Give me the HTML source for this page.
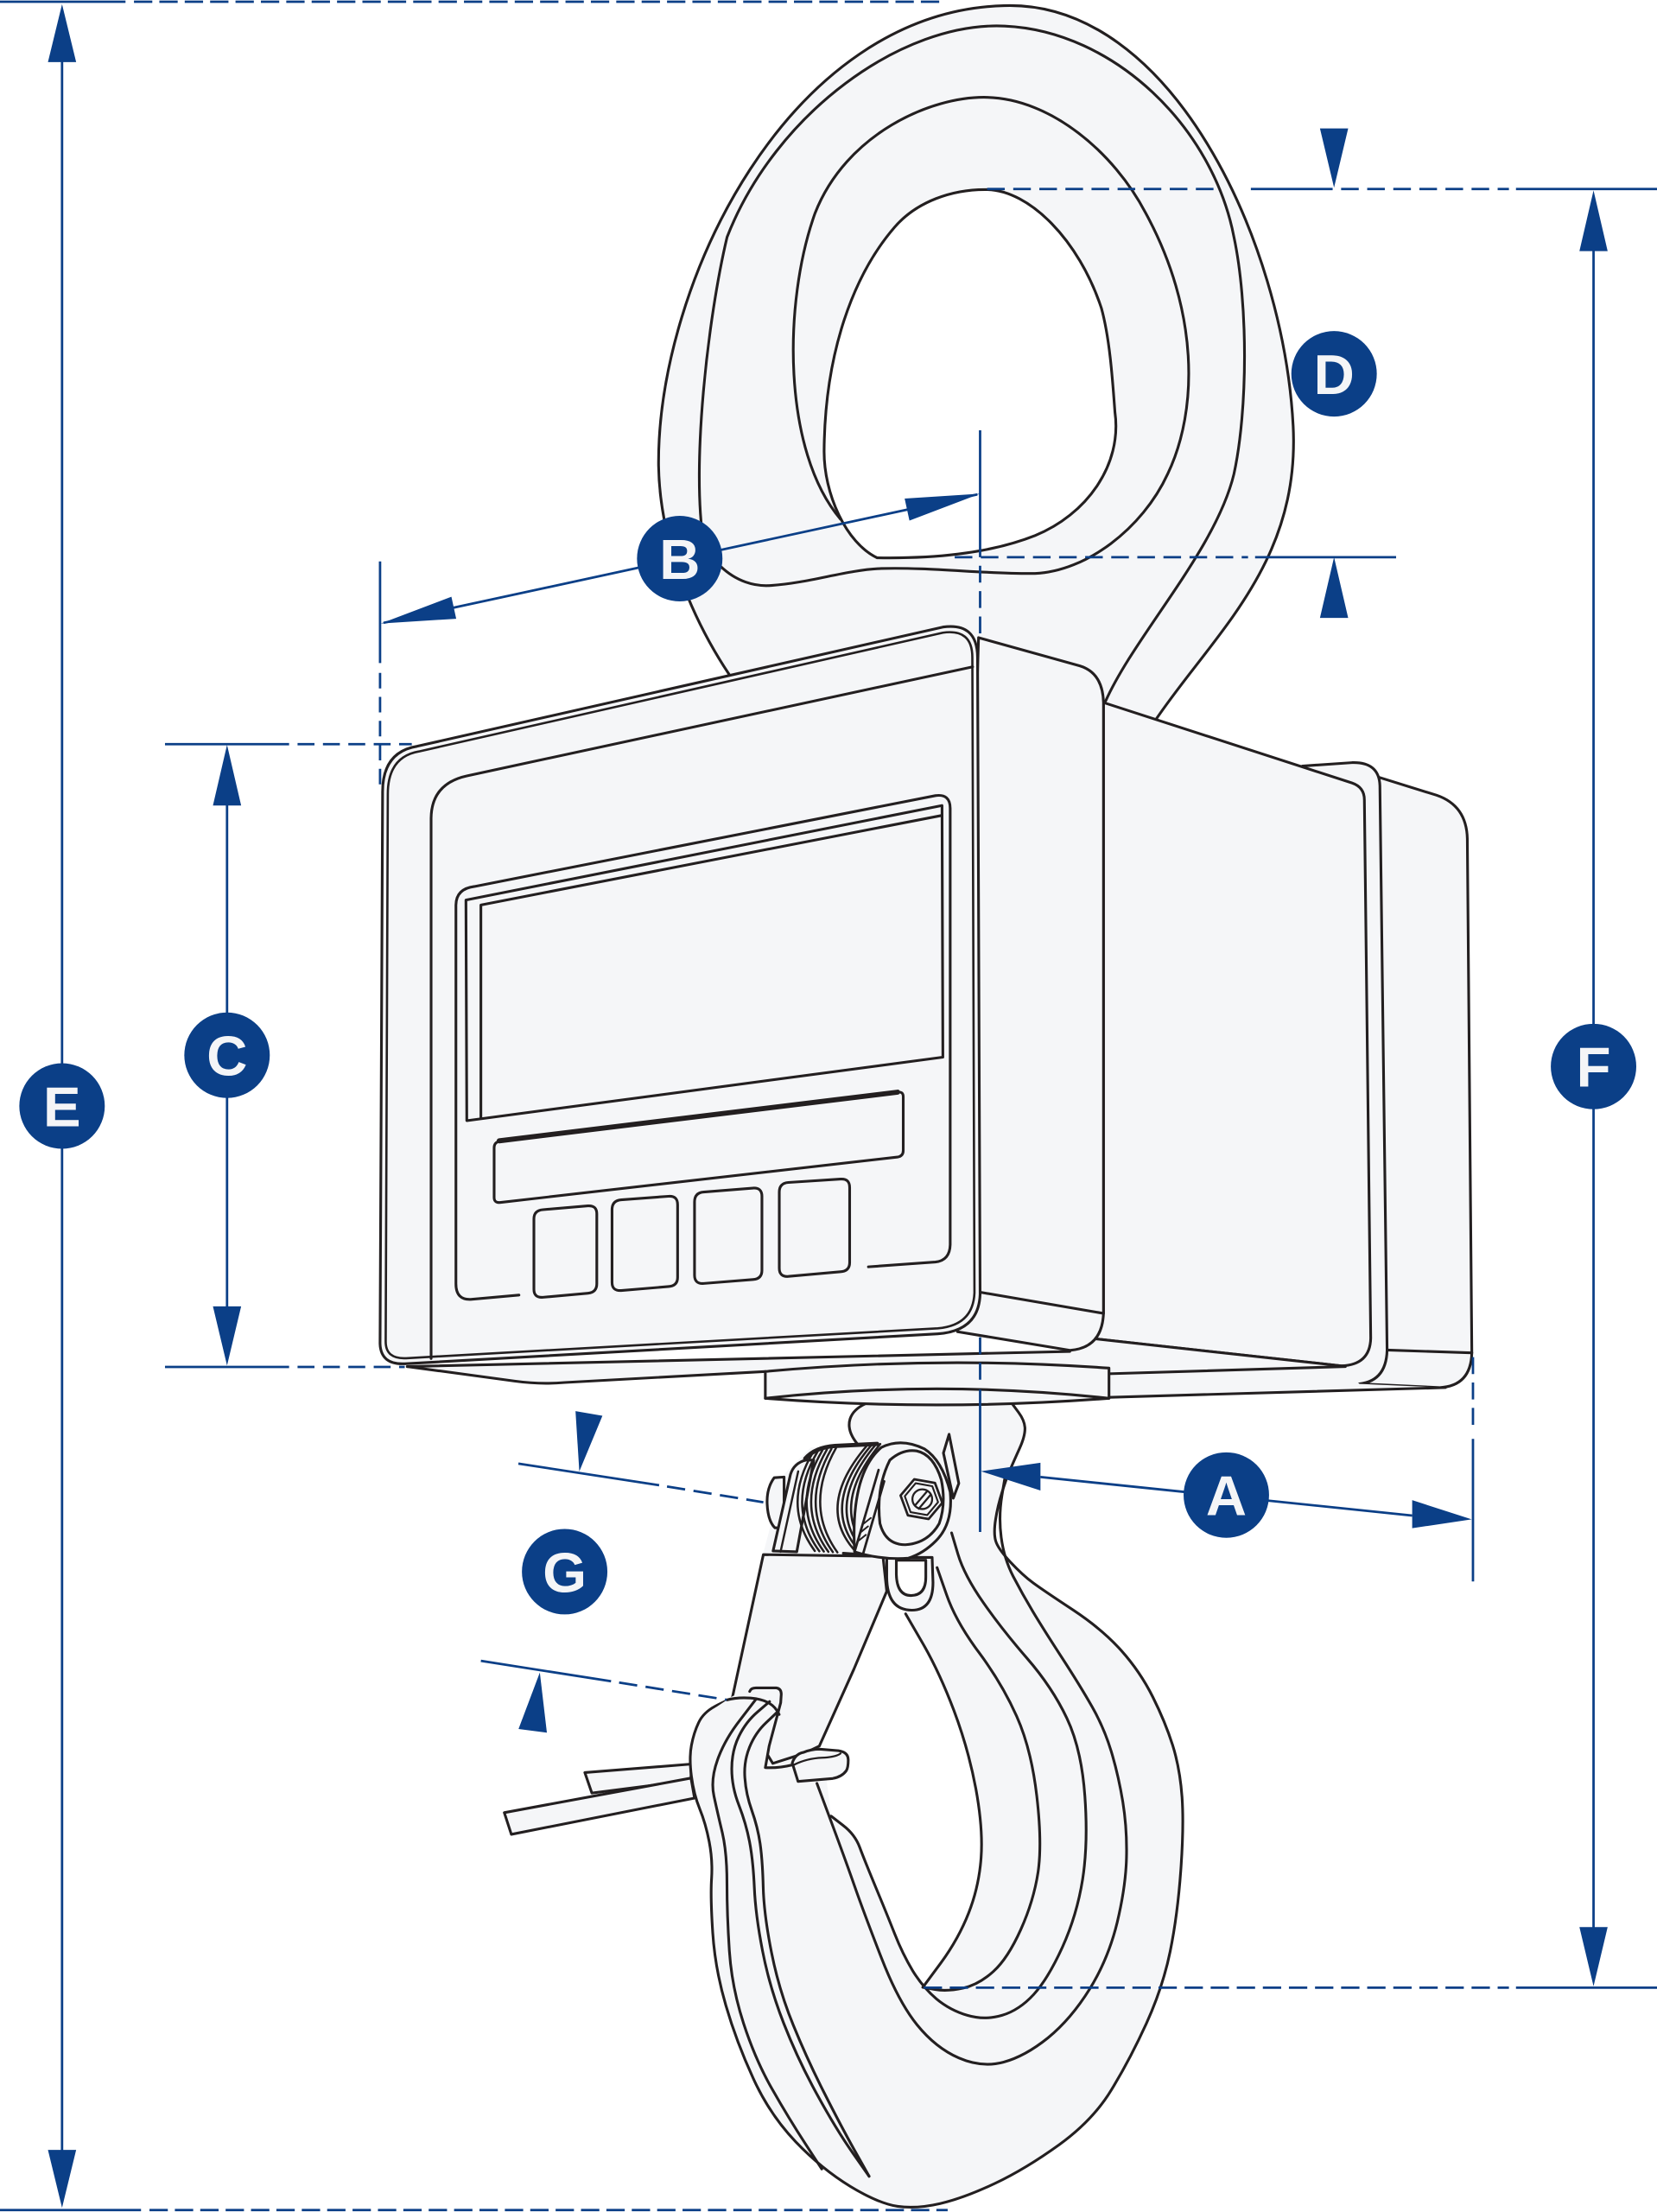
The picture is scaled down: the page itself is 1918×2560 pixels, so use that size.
<!DOCTYPE html>
<html><head><meta charset="utf-8"><title>Crane scale dimensions</title>
<style>html,body{margin:0;padding:0;background:#fff;}svg{display:block;}</style></head>
<body>
<svg xmlns="http://www.w3.org/2000/svg" width="1918" height="2560" viewBox="0 0 1175 1568" preserveAspectRatio="none">
<rect x="0" y="0" width="1175" height="1568" fill="#ffffff"/>

<!-- ================= EYE / SHACKLE ================= -->
<g stroke="#231f20" stroke-width="1.9" stroke-linejoin="round" stroke-linecap="round">
  <path fill="#f5f6f8" stroke="none" d="M517,478 C497,448 468,392 467,330 C466,200 560,8 712,4 C830,0 910,170 917,302 C922,400 860,450 819,511 L800,525 L530,525 Z"/>
  <path fill="none" d="M517,478 C497,448 468,392 467,330 C466,200 560,8 712,4 C830,0 910,170 917,302 C922,400 860,450 819,511"/>
  <!-- contour 2 -->
  <path fill="none" d="M784,497 C805,450 862,390 875,336 C885,290 885,215 875,168 C860,90 790,22 712.5,18.5 C640,15 550,80 515.6,168 C502,225 490,330 499,385"/>
  <!-- contour 3 -->
  <path fill="none" d="M511,401.5 C522,412 535,416 547,415 C575,413 600,404 625,403 C660,402 700,407 734,406.5 C770,405 810,375 828,336 C850,290 850,220 812.4,151 C790,108 745,70 700,69 C660,68 600,95 578,151 C555,215 555,320 596,368"/>
  <!-- hole -->
  <path fill="#ffffff" d="M622,395.4 C600,385 584,350 584.4,319 C585,250 605,195 634.4,161 C650,143 675,134 700,134.4 C730,135 765,170 781,218.4 C787,240 789,270 790.6,292 C796,330 770,365 734,379.6 C700,393 660,396 622,395.4 Z"/>
</g>

<!-- ================= HOOK ================= -->
<g stroke="#231f20" stroke-width="1.9" stroke-linejoin="round" stroke-linecap="round" fill="#f5f6f8">
  <!-- straps -->
  <path d="M414.7,1256.5 L490,1250.5 L490,1262 L419.7,1271 Z"/>
  <path d="M357.6,1284.9 L490,1260.4 L492.5,1274.6 L362.6,1300.3 Z"/>

  <!-- hook body fill -->
  <path stroke="none" d="M613.8,995 L717.7,995 L722.3,1001.2 Q726.8,1007.3 726.8,1012.8 Q726.8,1018.3 723.1,1026.5 Q719.4,1034.7 716.4,1041.6 Q713.4,1048.4 710.5,1058 Q707.5,1067.5 706,1077 Q704.5,1086.6 706,1092.1 Q707.5,1097.6 716.4,1107.2 Q725.3,1116.7 732.8,1122.2 Q740.2,1127.6 761,1141.3 Q781.7,1155 795.1,1170 Q808.5,1185 817.4,1202.8 Q826.3,1220.6 831.5,1237 Q836.7,1253.4 838.2,1273.9 Q839.6,1294.4 837.3,1326 Q835,1357.7 829.8,1383.2 Q824.6,1408.6 812.9,1434.4 Q801.1,1460.2 788,1481.6 Q775,1503 751.1,1520.3 Q727.2,1537.5 705.4,1547.8 Q683.5,1558.1 666.7,1562 Q649.9,1565.9 636.5,1564 Q623,1562 602.9,1549.8 Q582.7,1537.5 564.2,1518.2 Q545.7,1498.8 534,1473 Q522.2,1447.3 514.7,1421.5 Q507.1,1395.7 505.4,1370 Q503.7,1344.2 504.6,1331.3 Q505.4,1318.4 502.9,1305.5 Q500.4,1292.6 496.2,1282.3 Q492,1272 490.3,1259.1 Q488.6,1246.2 490.3,1237.2 Q492,1228.2 495.4,1221.1 Q498.7,1214 507.1,1209.5 Q515.5,1205 531,1199 L541,1102 L556,1045 L575,1026 L609.7,1025.5 Q600,1015 602.8,1005.8 Q605,999 613.8,995 Z"/>
  <!-- outer strokes -->
  <path fill="none" d="M609.7,1025.5 Q600,1015 602.8,1005.8 Q605,999 613.8,995"/>
  <path fill="none" d="M717.7,995 L722.3,1001.2 Q726.8,1007.3 726.8,1012.8 Q726.8,1018.3 723.1,1026.5 Q719.4,1034.7 716.4,1041.6 Q713.4,1048.4 710.5,1058 Q707.5,1067.5 706,1077 Q704.5,1086.6 706,1092.1 Q707.5,1097.6 716.4,1107.2 Q725.3,1116.7 732.8,1122.2 Q740.2,1127.6 761,1141.3 Q781.7,1155 795.1,1170 Q808.5,1185 817.4,1202.8 Q826.3,1220.6 831.5,1237 Q836.7,1253.4 838.2,1273.9 Q839.6,1294.4 837.3,1326 Q835,1357.7 829.8,1383.2 Q824.6,1408.6 812.9,1434.4 Q801.1,1460.2 788,1481.6 Q775,1503 751.1,1520.3 Q727.2,1537.5 705.4,1547.8 Q683.5,1558.1 666.7,1562 Q649.9,1565.9 636.5,1564 Q623,1562 602.9,1549.8 Q582.7,1537.5 564.2,1518.2 Q545.7,1498.8 534,1473 Q522.2,1447.3 514.7,1421.5 Q507.1,1395.7 505.4,1370 Q503.7,1344.2 504.6,1331.3 Q505.4,1318.4 502.9,1305.5 Q500.4,1292.6 496.2,1282.3 Q492,1272 490.3,1259.1 Q488.6,1246.2 490.3,1237.2 Q492,1228.2 495.4,1221.1 Q498.7,1214 507.1,1209.5 Q515.5,1205 531,1199"/>

  <!-- throat (white) -->
  <path fill="#ffffff" stroke="none" d="M628.8,1128 L605.6,1183 L581,1237.7 L572.7,1244.3 L594.5,1239.8 L601.2,1246.2 L599.5,1255.2 L586.1,1261.7 L589.4,1287.4 Q606.2,1300.3 609.6,1309.4 Q613,1318.5 621,1337.8 Q629,1357 634.5,1371 Q640,1385 647.2,1397 L654.4,1408.7 L667.2,1391.4 Q679.9,1374 687,1355.7 Q694.2,1337.3 695.7,1316.9 Q697.2,1296.4 692,1268 Q686.7,1239.7 676.4,1212.4 Q666,1185 654.1,1164.5 L642.2,1144 L640,1136 Z"/>

  <!-- latch plate -->
  <path d="M541.3,1102 L626.1,1103.2 L628.8,1128 L605.6,1183 L581,1237.7 L570,1243 L548,1250 L519.4,1203 Z"/>

  <!-- tip fill -->
  <path stroke="none" d="M505,1212 L515.5,1205 Q522,1200 531.6,1199 L533,1197 L550.5,1196.5 L554,1201 L553.6,1207 L545.4,1237.7 L542.7,1253 L562,1252 L586,1262 L589,1290 L510,1300 Z"/>

  <!-- inner hook lines -->
  <path fill="none" d="M642.2,1144 L654.1,1164.5 Q666,1185 676.4,1212.4 Q686.7,1239.7 692,1268 Q697.2,1296.4 695.7,1316.9 Q694.2,1337.3 687,1355.7 Q679.9,1374 667.2,1391.4 L654.4,1408.7"/>
  <path fill="none" d="M664.5,1111.2 L671.2,1130.4 Q677.8,1149.5 694.2,1171.4 Q710.5,1193.3 720.9,1216.5 Q731.3,1239.7 735.2,1273.2 Q739.1,1306.6 736.1,1327.1 Q733,1347.5 723.8,1367.9 Q714.6,1388.3 704.4,1397.5 Q694.2,1406.7 683,1409.3 Q671.7,1411.8 663,1410.3 L654.4,1408.7"/>
  <path fill="none" d="M674.8,1086.6 L679.3,1101.7 Q683.8,1116.7 697.2,1135.9 Q710.5,1155 728.3,1175.5 Q746.1,1196 756.5,1217.9 Q766.9,1239.7 769.3,1273.2 Q771.7,1306.6 767.7,1332.2 Q763.6,1357.7 753.4,1380.2 Q743.2,1402.6 733,1413.8 Q722.7,1425 710.5,1428.6 Q698.2,1432.2 686,1428.6 Q673.7,1425 664,1416.9 Q654.4,1408.7 647.2,1397 Q640,1385 634.5,1371 Q629,1357 621,1337.8 Q613,1318.5 609.6,1309.4 Q606.2,1300.3 597.8,1293.9 L589.4,1287.4"/>
  <path fill="none" d="M713,1045 L710.5,1060 Q708,1075 710,1090 Q712,1105 718.5,1117.5 Q725,1130 732.5,1142.5 Q740,1155 753,1175 Q766,1195 774.5,1210 Q783,1225 788,1241.5 Q793,1258 796.2,1277.2 Q799.3,1296.4 798.8,1316.9 Q798.3,1337.3 792.2,1362.8 Q786,1388.3 772.8,1409.8 Q759.5,1431.2 743.2,1444.5 Q726.8,1457.7 711.5,1461.8 Q696.2,1465.9 679.9,1458.8 Q663.5,1451.6 650.3,1435.3 Q637,1418.9 624.8,1387.3 Q612.5,1355.6 606,1337 Q599.5,1318.4 589.4,1291.3 L579.3,1264.2"/>
  <path fill="none" d="M535.7,1205 L524.8,1219.2 Q513.8,1233.3 508.8,1247.5 Q503.7,1261.7 506.3,1273.3 Q508.8,1284.9 512.2,1299.1 Q515.5,1313.2 515.5,1335.1 Q515.5,1357 517.2,1382.8 Q518.9,1408.6 527.3,1434.4 Q535.7,1460.2 547.5,1480.8 Q559.2,1501.4 571,1519.5 L582.7,1537.5"/>
  <path fill="none" d="M545.7,1206.2 L537.4,1213.3 Q529,1220.4 524,1230.7 Q518.9,1241 518.9,1253.9 Q518.9,1266.8 524,1279.7 Q529,1292.6 531.5,1305.5 Q534,1318.4 534.9,1337.7 Q535.7,1357 540.7,1382.8 Q545.7,1408.6 555.8,1434.4 Q565.9,1460.2 579.4,1484.7 Q592.8,1509.2 604.6,1526 L616.3,1542.7"/>
  <path fill="none" d="M550.8,1214 L543.3,1221.1 Q535.7,1228.2 531.5,1238.5 Q527.3,1248.8 528.2,1260.4 Q529,1272 533.2,1283.6 Q537.3,1295.2 539,1306.8 Q540.7,1318.4 541.2,1337.7 Q541.7,1357 547.1,1384.1 Q552.5,1411.2 562.6,1435.7 Q572.6,1460.2 584.4,1483.4 Q596.1,1506.6 606.2,1524.7 L616.3,1542.7"/>

  <!-- tip strokes -->
  <path fill="none" d="M531.6,1199 Q532.5,1196.5 536,1196.5 L550.5,1196.5 Q554,1197 554,1201 L553.6,1207 L545.4,1237.7 L542.7,1253 Q552,1253.5 562,1251"/>
  <path fill="none" d="M515.5,1205 Q523,1203 532.3,1203.7 Q541,1204.5 545.7,1207.5 Q550,1210 552.5,1215.3"/>

  <!-- latch end tab -->
  <path d="M561.8,1249.7 Q564,1243 570,1242.1 Q575,1240 581,1239.9 L594.6,1241 Q601.5,1242 601.5,1247.5 Q601.5,1253 600.1,1255.2 Q597,1259.5 590.5,1260.7 L565.9,1262.8 Z"/>
  <path fill="none" stroke-width="1.4" d="M563,1251 Q572,1246.5 583,1246 Q593,1245.5 596,1243"/>

  <!-- hinge loop -->
  <path d="M628.8,1104 L628.8,1118 Q629,1141.4 646.6,1141.4 Q661.6,1141.4 661.6,1121.8 L661,1104 Z"/>
  <path fill="#ffffff" d="M635.6,1106 L635.6,1116 Q636,1131 646,1131 Q656.5,1131 656.5,1118 L656.5,1106 Z"/>

  <!-- spring / swivel -->
  <path stroke="none" d="M552,1101 L562,1045 Q568,1033 580,1029 L625,1023 L632,1101 Z"/>
  <path d="M556,1047 L549,1047.5 Q543.5,1055 544,1066 Q544.5,1078 549.5,1083 L556,1083 Z"/>
  <path d="M548.2,1099.4 L560.5,1045.3 Q563,1037 571.7,1035 L577,1035 L565,1100 Z"/>
  <path fill="none" stroke-width="1.5" d="M553.5,1100 L566,1043"/>
  <g fill="none" stroke-width="1.55">
    <path d="M576.8,1029 Q553.9,1067 577.8,1099.4"/>
    <path d="M580,1028.5 Q557.1,1067 581,1099.6"/>
    <path d="M583.2,1028 Q560.3,1067 584.2,1099.8"/>
    <path d="M586.4,1027.5 Q563.5,1067 587.4,1100"/>
    <path d="M589.6,1027 Q566.7,1067 590.6,1100.2"/>
    <path d="M592.8,1026.5 Q569.9,1067 593.8,1100.4"/>
    <path d="M614.6,1024.9 Q577.2,1068.7 607.4,1100.5"/>
    <path d="M617.8,1024.5 Q580.4,1068.7 610.6,1100.7"/>
    <path d="M621,1024 Q583.6,1068.7 613.8,1100.9"/>
    <path d="M624.2,1023.6 Q586.8,1068.7 617,1101.1"/>
  </g>
  <path fill="none" stroke-width="3" d="M571,1034 Q578,1026 592,1025 L622,1023.5"/>
  <path fill="none" d="M598,1101 L626,1103"/>

  <!-- fin -->
  <path d="M669,1030 L673,1016.7 L679.9,1051.5 L676,1062 Z"/>
  <!-- eye ring -->
  <path d="M606,1100 Q603,1045 625,1026 Q639,1019 655.4,1027 Q668,1035 673.8,1057.6 Q676,1080 663.6,1092.3 Q655,1101 644.2,1104.5 Q625,1106 606,1100 Z"/>
  <path fill="none" stroke-width="1.7" d="M606,1100 L623,1042 M612,1101.5 L627,1050"/>
  <path fill="none" stroke-width="1.2" d="M609,1092 L614,1088 M610.5,1086 L615.5,1082 M612.5,1080 L617.5,1076"/>
  <path fill="none" d="M631,1035 Q640,1027 650,1028.5 Q662,1031 667.5,1049 Q671,1066 666,1080 Q658,1094 642,1095 Q628,1095 624,1080 Q621,1055 631,1035 Z"/>
  <!-- hex nut -->
  <path stroke-width="1.7" d="M668.2,1065.3 L658.5,1076.8 L643.8,1074.2 L638.6,1060.1 L648.3,1048.6 L663,1051.2 Z"/>
  <path fill="none" stroke-width="1.3" d="M665.2,1064.8 L657.5,1074 L645.7,1071.9 L641.6,1060.6 L649.3,1051.4 L661.1,1053.5 Z"/>
  <circle cx="654" cy="1062.7" r="7" stroke-width="1.4"/>
  <path fill="none" stroke-width="1.4" d="M649,1067 L657.5,1057 M651.5,1069.5 L660,1059.5"/>
</g>

<!-- ================= BOX ================= -->
<g stroke="#231f20" stroke-width="1.9" stroke-linejoin="round" stroke-linecap="round" fill="#f5f6f8">
  <!-- back box -->
  <path d="M965,547 L1018.7,563.7 Q1040,571 1040.5,594.6 L1043.7,959 Q1043,982.5 1021,983.6 L966,981 Z"/>
  <path fill="none" d="M983.6,957 L1043.7,959"/>
  <!-- flange -->
  <path stroke="none" d="M923.6,543 L958.7,540.6 Q978,540 978.5,557 L983.6,957 Q983,980.5 961,981.2 L786,985 L786,960 Z"/>
  <path fill="none" d="M923.6,543 L958.7,540.6 Q978,540 978.5,557 L983.6,957 Q983,980.5 961,981.2 L786.4,985"/>
  <!-- big side panel -->
  <path d="M782.5,498 L958.7,555 Q967.5,558 967.5,567 L972,948.6 Q971.5,967.5 951.2,968.2 L776.2,949 L782.5,931 Z"/>
  <!-- base plate -->
  <path stroke="none" d="M288.8,968.7 L758.6,958 L776,949 L951,968.5 L964,981 L1025,983.6 L786.4,990.5 L542.7,972.2 L400.5,980 Q383,981.5 365,979 Z"/>
  <path fill="none" d="M288.8,968.7 L758.6,958"/>
  <path fill="none" d="M288.8,968.7 L365,979 Q383,981.5 400.5,980 L542.7,972.2"/>
  <path fill="none" d="M786.4,973.8 L954,968.7"/>
  <path fill="none" d="M786.4,990.5 L1025,983.6"/>
  <path fill="none" d="M776.2,949 L951.2,968.2"/>
  <!-- bezel side face -->
  <path d="M693.9,452 L765.7,472 Q782,477 782.5,498 L782.5,931 Q781.5,955.5 758.7,957.2 L679,944 L693.9,452 Z"/>
  <path fill="none" d="M695,916 L782.5,931"/>
  <!-- front bezel -->
  <path d="M271.3,562 Q271,533 295.8,529 L668.6,444.5 Q693,441 693.2,466 L695,917.5 Q694,943.5 665,945.5 L287,966.7 Q270,967.5 269.5,952.5 Z"/>
  <path fill="none" stroke-width="1.6" d="M275,563 Q275,536.5 297,532.7 L668.6,448.5 Q689.5,445.5 689.5,466 L691,916.5 Q690,939.5 665,941.6 L288,962.8 Q273.5,963.5 273.5,951 Z"/>
  <path fill="none" d="M305.7,963 L305.7,580 Q306,555.5 331,550 L689.7,472.7"/>
  <!-- panel -->
  <path fill="none" d="M368,918 L334.6,921 Q323.3,922 323.3,910 L323.3,641.5 Q323.5,630 336.4,628.4 L663.3,564 Q673.8,562.5 673.8,573 L673.8,882.3 Q673.5,893.5 663.3,894.6 L615.8,898"/>
  <!-- LCD -->
  <path d="M330.4,638 L668,571 L668.6,749.4 L331,794.4 Z"/>
  <path fill="none" d="M341,792.6 L341,641.5 L668,578"/>
  <!-- strip -->
  <path d="M354,809 Q350.4,810 350.4,813.5 L350.4,849 Q350.5,852.7 354.5,852.4 L636.5,820.2 Q640.5,819.6 640.5,815.5 L640.5,777.5 Q640.5,773.6 636.5,774.2 Z"/>
  <path fill="none" stroke-width="3.6" d="M354,808.7 L636.5,774.2"/>
  <!-- buttons -->
  <path d="M378.6,864 Q378.6,858 385,857.5 L416.8,854.8 Q423.2,854.3 423.2,860.5 L423.2,910 Q423.2,916 417,916.7 L385,919.6 Q378.6,920 378.6,914 Z"/>
  <path d="M434,857.5 Q434,851 440.5,850.5 L474,848 Q480.5,847.5 480.5,854 L480.5,905.5 Q480.5,911.5 474,912 L440.5,914.8 Q434,915.2 434,909 Z"/>
  <path d="M492.5,852 Q492.5,845.5 499,845 L533.8,842.2 Q540.3,841.7 540.3,848 L540.3,900.5 Q540.3,906.5 534,907 L499,909.8 Q492.5,910.2 492.5,904 Z"/>
  <path d="M552.6,845 Q552.6,838.7 559,838.2 L596,835.8 Q602.5,835.3 602.5,841.8 L602.5,895 Q602.5,901 596,901.5 L559,904.8 Q552.6,905.2 552.6,899 Z"/>
  <!-- collar disk -->
  <path d="M542.7,972.2 Q664,961 786.4,969.8 L786.4,991.2 Q664,1000.6 542.7,991.2 Z"/>
  <path fill="none" d="M542.7,991.2 Q664,977.8 786.4,991.2"/>
</g>

<!-- ================= DIMENSIONS ================= -->
<g stroke="#0b3f87" stroke-width="1.7" fill="none">
  <!-- E -->
  <path d="M44,40 L44,1527"/>
  <path d="M0,1.2 L89,1.2"/>
  <path d="M95,1.2 L668,1.2" stroke-dasharray="13 5"/>
  <path d="M0,1566.6 L100,1566.6"/>
  <path d="M106,1566.6 L672,1566.6" stroke-dasharray="13 5"/>
  <!-- C -->
  <path d="M161,568 L161,930"/>
  <path d="M117,527.5 L205,527.5"/>
  <path d="M211,527.5 L292,527.5" stroke-dasharray="12 6"/>
  <path d="M117,969 L205,969"/>
  <path d="M211,969 L287,969" stroke-dasharray="12 6"/>
  <!-- B -->
  <path d="M272,441.5 L693,350.5"/>
  <path d="M269.5,398 L269.5,470"/>
  <path d="M269.5,477 L269.5,562" stroke-dasharray="11 6"/>
  <!-- central vertical -->
  <path d="M695,305 L695,395"/>
  <path d="M695,401 L695,452" stroke-dasharray="12 6"/>
  <path d="M695,948 L695,980" stroke-dasharray="12 6"/>
  <path d="M695,985 L695,1086"/>
  <!-- D -->
  <path d="M700,134 L862,134" stroke-dasharray="12.5 6"/>
  <path d="M887,134 L945,134"/>
  <path d="M951,134 L1070,134" stroke-dasharray="12.5 6"/>
  <path d="M1075,134 L1175,134"/>
  <path d="M677,395 L885,395" stroke-dasharray="12.5 6"/>
  <path d="M890,395 L990,395"/>
  <!-- F -->
  <path d="M1130,175 L1130,1368"/>
  <path d="M655,1409 L1070,1409" stroke-dasharray="13 5.5"/>
  <path d="M1075,1409 L1175,1409"/>
  <!-- A -->
  <path d="M737.8,1047 L1001.4,1074.3"/>
  <path d="M1044.5,962 L1044.5,1015" stroke-dasharray="12 6"/>
  <path d="M1044.5,1020 L1044.5,1121"/>
  <!-- G -->
  <path d="M367.6,1037.5 L467.4,1052.8"/>
  <path d="M473,1053.7 L541.3,1064.9" stroke-dasharray="13 6"/>
  <path d="M341,1177.3 L433.3,1191.8"/>
  <path d="M439,1192.7 L515.3,1204.9" stroke-dasharray="13 6"/>
</g>
<g fill="#0b3f87" stroke="none">
  <polygon points="44,3 34,44 54,44"/>
  <polygon points="44,1565 34,1524 54,1524"/>
  <polygon points="161,528 151,571 171,571"/>
  <polygon points="161,968 151,926 171,926"/>
  <polygon points="270,442 323.5,438.6 320.1,423"/>
  <polygon points="695,350 644.9,369 641.5,353.4"/>
  <polygon points="946,133 936,91 956,91"/>
  <polygon points="946,395 936,438 956,438"/>
  <polygon points="1130,135 1120,178 1140,178"/>
  <polygon points="1130,1408 1120,1366 1140,1366"/>
  <polygon points="695.6,1042.9 737.8,1036.9 737.8,1056.6"/>
  <polygon points="1043.6,1077 1001.4,1063.4 1001.4,1083.3"/>
  <polygon points="410.8,1043 408.1,1000.3 427.2,1003.6"/>
  <polygon points="382.8,1185.6 367.7,1225.6 387.8,1228.2"/>

  <circle cx="44" cy="784" r="30.3"/>
  <circle cx="161" cy="748" r="30.3"/>
  <circle cx="482" cy="396" r="30.3"/>
  <circle cx="946" cy="265" r="30.3"/>
  <circle cx="1130" cy="756" r="30.3"/>
  <circle cx="869.6" cy="1059.8" r="30.3"/>
  <circle cx="400.4" cy="1114.1" r="30.3"/>
</g>
<g fill="#f4f5f7" font-family="'Liberation Sans', 'DejaVu Sans', sans-serif" font-weight="bold" font-size="40" text-anchor="middle">
  <text x="44" y="798.3">E</text>
  <text x="161" y="762.3">C</text>
  <text x="482" y="410.3">B</text>
  <text x="946" y="279.3">D</text>
  <text x="1130" y="770.3">F</text>
  <text x="869.6" y="1074.1">A</text>
  <text x="400.4" y="1128.4">G</text>
</g>
</svg>
</body></html>
